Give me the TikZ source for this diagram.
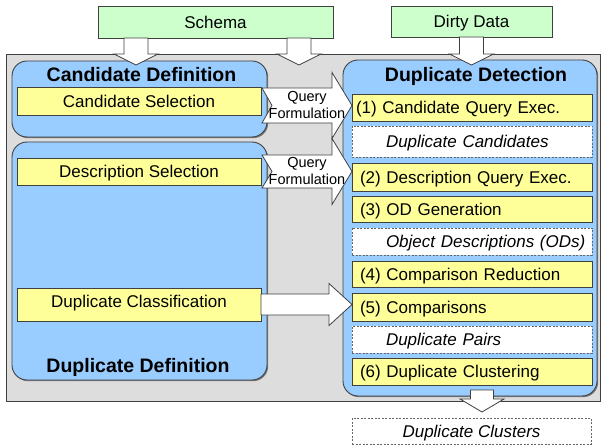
\documentclass[tikz,border=0pt]{standalone}
\usepackage{fontspec}
\setmainfont{Liberation Sans}
\usetikzlibrary{calc,shadows}
\definecolor{bggrey}{HTML}{DDDDDD}
\definecolor{grn}{HTML}{CCFFCC}
\definecolor{blu}{HTML}{99CCFF}
\definecolor{yel}{HTML}{FFFF99}
\definecolor{edge}{HTML}{404040}
\newcommand\rblockarrow[6]{%
  \draw[blk] let \p1=(#1), \p2=(#2) in
    (\x1,\y1+#3) -- (\x2-#5,\y1+#3) -- (\x2-#5,\y1+#4) -- (\x2,\y1)
    -- (\x2-#5,\y1-#4) -- (\x2-#5,\y1-#3) -- (\x1,\y1-#3) -- (\x1+#6,\y1) -- cycle;}
\newcommand\dblockarrow[5]{%
  \draw[blk] let \p1=(#1), \p2=(#2) in
    (\x1-#3,\y1) -- (\x1-#3,\y2+#5) -- (\x1-#4,\y2+#5) -- (\x1,\y2)
    -- (\x1+#4,\y2+#5) -- (\x1+#3,\y2+#5) -- (\x1+#3,\y1) -- cycle;}
\begin{document}
\begin{tikzpicture}[x=1pt,y=-1pt,
  every node/.style={inner sep=0pt, outer sep=0pt},
  txt/.style={font=\fontsize{17}{20}\selectfont, text height=12.2pt, text depth=0pt},
  greenbox/.style={txt, draw=edge, fill=grn, line width=0.8pt},
  bluebox/.style={draw=edge, fill=blu, line width=0.9pt, rounded corners=15pt,
    drop shadow={shadow xshift=1.2pt, shadow yshift=-1.2pt, fill=black, opacity=0.45}},
  ybox/.style={txt, draw=edge, fill=yel, line width=0.8pt,
    drop shadow={shadow xshift=0.8pt, shadow yshift=-0.8pt, fill=black, opacity=0.4}},
  ylbox/.style={ybox, text width=240pt, align=left},
  dbox/.style={txt, draw=edge!80, fill=white, line width=0.8pt, dash pattern=on 2pt off 1.5pt,
    font=\fontsize{17}{20}\selectfont\itshape},
  dlbox/.style={dbox, text width=240pt, align=left},
  titletext/.style={font=\fontsize{19.5}{22}\selectfont\bfseries, text height=14pt, text depth=0pt},
  blk/.style={draw=edge, fill=white, line width=0.8pt, line join=miter},
  qtext/.style={font=\fontsize{14.5}{17}\selectfont, align=center}]
\useasboundingbox (0,0) rectangle (602,446);

% inputs
\node[greenbox, minimum width=235pt, minimum height=32pt] (schema) at (215.5,22) {Schema};
\node[greenbox, minimum width=161pt, minimum height=31pt] (dirty) at (471.5,21.5) {Dirty Data};

% background
\node[draw=edge, fill=bggrey, line width=0.9pt, minimum width=594pt, minimum height=347pt] (bg) at (303,227.5) {};

% blue groups
\node[bluebox, minimum width=255pt, minimum height=76pt] (canddef) at (139.5,99) {};
\node[bluebox, minimum width=255pt, minimum height=238pt] (dupdef) at (139.5,261) {};
\node[bluebox, minimum width=254pt, minimum height=336pt] (detect) at (470,228) {};

\node[titletext] (tcand) at (141.5,75) {Candidate Definition};
\node[titletext] (tdupdef) at (138,365) {Duplicate Definition};
\node[titletext] (tdet) at (476,75) {Duplicate Detection};

% left steps
\node[ybox, minimum width=244pt, minimum height=28pt] (candsel) at (139,101) {Candidate Selection};
\node[ybox, minimum width=244pt, minimum height=27pt] (descsel) at (139,171.5) {Description Selection};
\node[ybox, minimum width=244pt, minimum height=33pt, text depth=6pt] (dupclass) at (139,304.5) {Duplicate Classification};

% right steps
\node[ylbox, minimum height=27pt] (c1) at (472,107.5) {\hspace*{4pt}(1) Candidate Query Exec.};
\node[dlbox, minimum height=31pt] (dc) at (472,141.5) {\hspace*{34pt}Duplicate Candidates};
\node[ylbox, minimum height=28pt] (c2) at (472,177) {\hspace*{8pt}(2) Description Query Exec.};
\node[ylbox, minimum height=26pt] (c3) at (472,209) {\hspace*{8pt}(3) OD Generation};
\node[dlbox, minimum height=27pt] (ods) at (472,241.5) {\hspace*{34pt}Object Descriptions (ODs)};
\node[ylbox, minimum height=26pt] (c4) at (472,274) {\hspace*{8pt}(4) Comparison Reduction};
\node[ylbox, minimum height=28pt] (c5) at (472,307) {\hspace*{8pt}(5) Comparisons};
\node[dlbox, minimum height=27pt] (pairs) at (472,339.5) {\hspace*{34pt}Duplicate Pairs};
\node[ylbox, minimum height=27pt] (c6) at (472,371.5) {\hspace*{8pt}(6) Duplicate Clustering};

\node[dbox, minimum width=239pt, minimum height=26pt] (clusters) at (471.5,431) {Duplicate Clusters};

% down arrows
\coordinate (s1) at ($(schema.south)+(-79.5,0)$);
\coordinate (s1tip) at ($(s1)+(0,27)$);
\coordinate (s2) at ($(schema.south)+(83.5,0)$);
\coordinate (s2tip) at ($(s2)+(0,27)$);
\coordinate (d1tip) at ($(dirty.south)+(0,28)$);
\dblockarrow{s1}{s1tip}{12pt}{22pt}{11pt}
\dblockarrow{s2}{s2tip}{12pt}{22pt}{11pt}
\dblockarrow{dirty.south}{d1tip}{12pt}{22pt}{11pt}
\coordinate (outtop) at ($(detect.south)+(12,-6)$);
\coordinate (outtip) at ($(outtop)+(0,22)$);
\dblockarrow{outtop}{outtip}{11.5pt}{22pt}{13pt}

% query formulation arrows
\coordinate (q1a) at ($(candsel.east |- c1.west)+(1,-2)$);
\coordinate (q1b) at (c1.west |- q1a);
\rblockarrow{q1a}{q1b}{17.5pt}{33pt}{20pt}{10pt}
\node[qtext] (q1text) at ($(q1a)!0.5!(q1b)+(0,0)$) {Query\\Formulation};
\coordinate (q2a) at ($(descsel.east)+(1,0)$);
\coordinate (q2b) at (c2.west |- q2a);
\rblockarrow{q2a}{q2b}{16.5pt}{33pt}{20pt}{10pt}
\node[qtext] (q2text) at ($(q2a)!0.5!(q2b)+(0,0)$) {Query\\Formulation};
\coordinate (q3b) at (c5.west |- dupclass.east);
\rblockarrow{dupclass.east}{q3b}{10.5pt}{21pt}{23pt}{0pt}
\end{tikzpicture}
\end{document}
